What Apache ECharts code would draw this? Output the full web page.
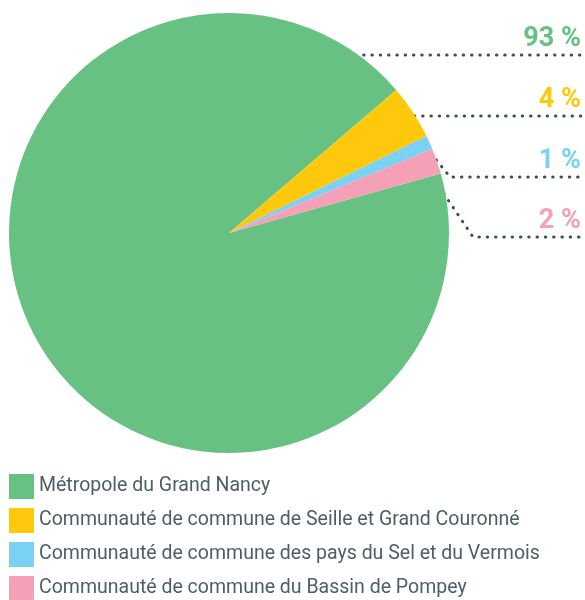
<!DOCTYPE html>
<html>
<head>
<meta charset="utf-8">
<script src="https://cdn.jsdelivr.net/npm/echarts@6/dist/echarts.min.js"></script>
<style>
  html, body { margin: 0; padding: 0; background: #fff; }
  #main { width: 585px; height: 600px; }
</style>
</head>
<body>
<div id="main"></div>
<script>
// données
var categories = [
    'Métropole du Grand Nancy',
    'Communauté de commune de Seille et Grand Couronné',
    'Communauté de commune des pays du Sel et du Vermois',
    'Communauté de commune du Bassin de Pompey'
];
var values = [93.1, 4.0, 1.0, 1.9];
var colors = ['#67c183', '#fec90c', '#7bd1f4', '#f4a1b8'];

// position des étiquettes à droite (y du trait pointillé) et départ du trait
var labelRowY = [55, 116, 177, 237];
var lineStart = [[347, 55], [406, 116], [426, 147], [430, 173]];
var lineBend = [null, null, [450, 177], [473, 237]];

var myChart = echarts.init(document.getElementById('main'));

var option = {
    animation: false,
    color: colors,
    legend: {
        orient: 'vertical',
        left: 9,
        top: 474,
        height: 200,
        padding: 0,
        itemWidth: 25,
        itemHeight: 25,
        itemGap: 9,
        icon: 'rect',
        selectedMode: false,
        data: categories,
        textStyle: {
            color: '#4b5f67',
            fontSize: 19.5,
            fontFamily: 'Roboto'
        }
    },
    series: [{
        type: 'pie',
        center: [229, 233],
        radius: 220,
        startAngle: 15.7,
        clockwise: true,
        avoidLabelOverlap: false,
        percentPrecision: 0,
        itemStyle: { borderWidth: 0 },
        emphasis: { disabled: true },
        label: {
            show: true,
            position: 'outside',
            formatter: '{d} %',
            color: 'inherit',
            fontFamily: 'Roboto',
            fontWeight: 'bold',
            fontSize: 27
        },
        labelLine: {
            show: true,
            smooth: false,
            lineStyle: {
                color: '#3d4f57',
                width: 3,
                type: [0.5, 7.8],
                cap: 'round'
            }
        },
        labelLayout: function (p) {
            var i = p.dataIndex;
            var y = labelRowY[i];
            var pts = [lineStart[i], lineBend[i] || [500, y], [585, y]];
            return {
                x: 581,
                y: y - 16,
                align: 'right',
                verticalAlign: 'middle',
                labelLinePoints: pts
            };
        },
        data: categories.map(function (c, i) {
            return { name: c, value: values[i] };
        })
    }]
};

myChart.setOption(option);
</script>
</body>
</html>
